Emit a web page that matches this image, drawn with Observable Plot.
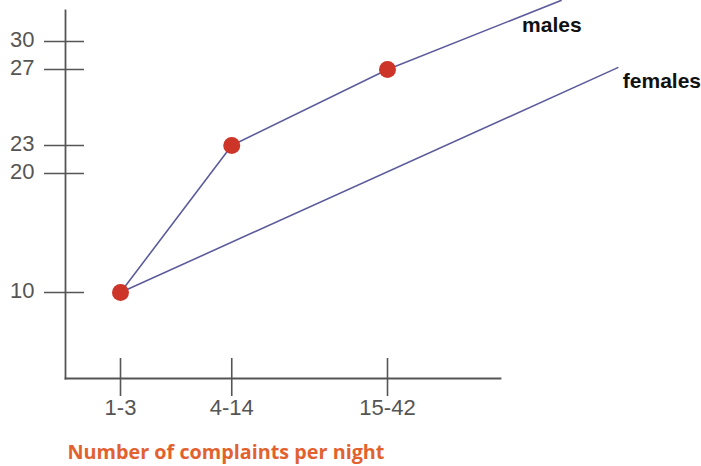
<!DOCTYPE html>
<html>
<head>
<meta charset="utf-8">
<script src="https://cdn.jsdelivr.net/npm/d3@7"></script>
<script src="https://cdn.jsdelivr.net/npm/@observablehq/plot@0.6"></script>
<style>
  html, body { margin: 0; padding: 0; background: #fff; }
  #chart svg { display: block; }
</style>
</head>
<body>
<div id="chart"></div>
<script>
// Categories on the x axis and their positions along the (unevenly drawn) axis
const categories = ["1-3", "4-14", "15-42"];
const categoryPos = [1, 2, 3.4];

// y tick values shown on the axis
const yTicks = [10, 20, 23, 27, 30];

// males: measured points plus the line's continuation off the top
const maleX = [1, 2, 3.4, 4.96];
const maleY = [10, 23, 27, 34.4];
const malePoints = [10, 23, 27];

// females: straight line from the first point to its labelled end
const femaleX = [1, 5.47];
const femaleY = [10, 27.2];

const seriesLabels = ["males", "females"];

const maleLine = maleX.map((x, i) => ({x, y: maleY[i]}));
const femaleLine = femaleX.map((x, i) => ({x, y: femaleY[i]}));
const points = malePoints.map((y, i) => ({x: categoryPos[i], y}));

const axisColor = "#555";
const lineColor = "#5c5c9c";

const chart = Plot.plot({
  width: 701,
  height: 466,
  marginLeft: 65,
  marginRight: 201,
  marginTop: 10,
  marginBottom: 88,
  style: {background: "#fff", overflow: "hidden"},
  x: {type: "linear", domain: [1, 3.4], range: [120, 387], axis: null},
  y: {type: "linear", domain: [10, 20, 23, 27, 30], range: [292, 173, 145, 69, 41], axis: null},
  marks: [
    Plot.frame({anchor: "left", stroke: axisColor, strokeWidth: 1.8}),
    Plot.frame({anchor: "bottom", stroke: axisColor, strokeWidth: 1.8}),
    Plot.tickY(yTicks, {y: d => d, insetLeft: -21, insetRight: 416, stroke: axisColor, strokeWidth: 1.6}),
    Plot.tickX(categoryPos, {x: d => d, insetTop: 348, insetBottom: -18, stroke: axisColor, strokeWidth: 1.6}),
    Plot.text(yTicks, {y: d => d, text: d => String(d), frameAnchor: "left", dx: -31, dy: -2, textAnchor: "end",
      fontSize: 22, fill: "#555", fontFamily: "Liberation Sans, Arial, sans-serif"}),
    Plot.text(categories, {x: (d, i) => categoryPos[i], text: d => d, frameAnchor: "bottom", dy: 36,
      fontSize: 22, fill: "#555", fontFamily: "Liberation Sans, Arial, sans-serif"}),
    Plot.line(maleLine, {x: "x", y: "y", stroke: lineColor, strokeWidth: 1.6}),
    Plot.line(femaleLine, {x: "x", y: "y", stroke: lineColor, strokeWidth: 1.6}),
    Plot.dot(points, {x: "x", y: "y", r: 8.5, fill: "#cc3527", stroke: "none"}),
    Plot.text([maleLine[maleLine.length - 1]], {x: "x", y: "y", text: () => seriesLabels[0], textAnchor: "start",
      dx: -39, dy: 25, fontSize: 21, fontWeight: "bold", fill: "#111", fontFamily: "Liberation Sans, Arial, sans-serif"}),
    Plot.text([femaleLine[femaleLine.length - 1]], {x: "x", y: "y", text: () => seriesLabels[1], textAnchor: "start",
      dx: 5, dy: 14, fontSize: 21, fontWeight: "bold", fill: "#111", fontFamily: "Liberation Sans, Arial, sans-serif"}),
    Plot.text(["Number of complaints per night"], {text: d => d, frameAnchor: "bottom-left", dx: 2, dy: 80,
      textAnchor: "start", fontSize: 19.8, fontWeight: "bold", fill: "#e2622f", fontFamily: "Open Sans, sans-serif"})
  ]
});
document.getElementById("chart").appendChild(chart);
</script>
</body>
</html>
